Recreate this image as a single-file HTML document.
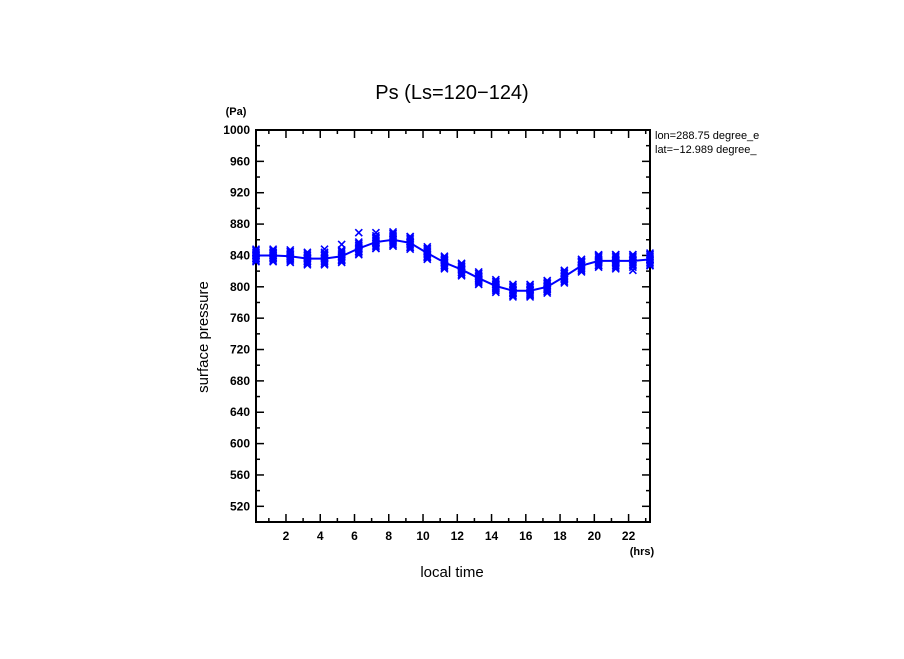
<!DOCTYPE html>
<html><head><meta charset="utf-8"><style>
html,body{margin:0;padding:0;background:#fff;}
svg text{font-family:"Liberation Sans",sans-serif;fill:#000;}
</style></head><body>
<svg id="chart" width="904" height="654" viewBox="0 0 904 654" xmlns="http://www.w3.org/2000/svg">
<rect width="904" height="654" fill="#fff"/>
<text x="452" y="99" font-size="20" text-anchor="middle">Ps (Ls=120−124)</text>
<text x="236" y="115" font-size="11" text-anchor="middle" font-weight="bold">(Pa)</text>
<text x="642" y="555" font-size="11" text-anchor="middle" font-weight="bold">(hrs)</text>
<text transform="translate(208,337) rotate(-90)" font-size="15" text-anchor="middle">surface pressure</text>
<text x="452" y="577" font-size="15" text-anchor="middle">local time</text>
<text x="655" y="139" font-size="11">lon=288.75 degree_e</text>
<text x="655" y="153" font-size="11">lat=−12.989 degree_</text>
<rect x="779" y="125" width="125" height="35" fill="#fff"/>
<g id="axes"></g>
<g id="marks"></g>
</svg>
<script>
const hours = [0.25,1.25,2.25,3.25,4.25,5.25,6.25,7.25,8.25,9.25,10.25,11.25,12.25,13.25,14.25,15.25,16.25,17.25,18.25,19.25,20.25,21.25,22.25,23.25];
const meanPs = [840,840,839,836,836,839,849,857,860,856,843,831,822,811,801,795,795,800,813,827,833,833,833,835];
const sampleOffsets = [-8,-6,-4,-2,0,2,4,6,8];
const extraHigh = [2,3,2,2,12,15,20,12,10,8,4,3,2,2,2,2,2,4,4,5,7,8,8,6];
const extraLow = [-4,-3,-3,-4,-6,-5,-4,-8,-8,-6,-5,-4,-4,-3,-3,-3,-5,-3,-3,-4,-6,-10,-12,-8];
const yTicks = [520,560,600,640,680,720,760,800,840,880,920,960,1000];
const xTicks = [2,4,6,8,10,12,14,16,18,20,22];

const X0=256,X1=650,Y0=130,Y1=522,XMIN=0.25,XMAX=23.25,YMIN=500,YMAX=1000;
const xs=t=>X0+(t-XMIN)/(XMAX-XMIN)*(X1-X0);
const ys=v=>Y1-(v-YMIN)/(YMAX-YMIN)*(Y1-Y0);
const NS="http://www.w3.org/2000/svg";
function mk(tag,attrs,parent){const e=document.createElementNS(NS,tag);for(const k in attrs)e.setAttribute(k,attrs[k]);parent.appendChild(e);return e;}
const axes=document.getElementById('axes'),marks=document.getElementById('marks');

const frame=mk('rect',{x:X0,y:Y0,width:X1-X0,height:Y1-Y0,fill:'none',stroke:'#000','stroke-width':2},axes);


for(let v=YMIN;v<=YMAX;v+=20){
  const major=yTicks.includes(v);const L=major?8:4;const y=ys(v);
  const t1=mk('line',{x1:X0,x2:X0+L,y1:y,y2:y,stroke:'#000','stroke-width':1.5},axes);
  
  
  const t2=mk('line',{x1:X1,x2:X1-L,y1:y,y2:y,stroke:'#000','stroke-width':1.5},axes);
  
  
}
yTicks.forEach(v=>{
  const t=mk('text',{x:X0-6,y:ys(v)+4,'font-size':12,'text-anchor':'end','font-weight':'bold'},axes);
  t.textContent=v;
  
  
});
for(let h=1;h<=23;h++){
  const major=xTicks.includes(h);const L=major?8:4;const x=xs(h);
  const t1=mk('line',{x1:x,x2:x,y1:Y1,y2:Y1-L,stroke:'#000','stroke-width':1.5},axes);
  
  
  const t2=mk('line',{x1:x,x2:x,y1:Y0,y2:Y0+L,stroke:'#000','stroke-width':1.5},axes);
  
  
}
xTicks.forEach(h=>{
  const t=mk('text',{x:xs(h),y:Y1+18,'font-size':12,'text-anchor':'middle','font-weight':'bold'},axes);
  t.textContent=h;
  
  
});

hours.forEach((h,i)=>{
  const vals=sampleOffsets.map(o=>meanPs[i]+o).concat([meanPs[i]+extraHigh[i],meanPs[i]+extraLow[i]]);
  vals.forEach(v=>{
    const x=xs(h),y=ys(v),s=3.5;
    const p=mk('path',{d:`M${x-s},${y-s}L${x+s},${y+s}M${x-s},${y+s}L${x+s},${y-s}`,stroke:'#0000ff','stroke-width':1.6,fill:'none'},marks);
    
    
  });
});
const line=mk('polyline',{points:hours.map((h,i)=>xs(h)+','+ys(meanPs[i])).join(' '),fill:'none',stroke:'#0000ff','stroke-width':2},marks);


</script>
</body></html>
